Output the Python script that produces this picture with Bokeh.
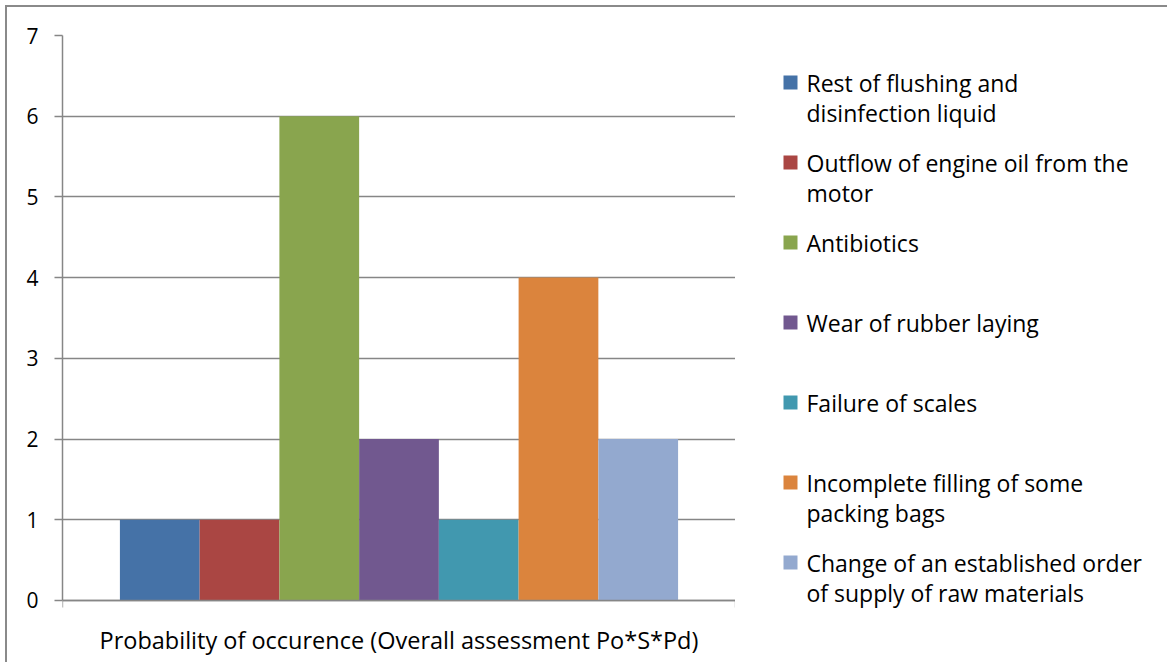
from bokeh.plotting import figure
from bokeh.layouts import row
from bokeh.models import ColumnDataSource, Range1d, FixedTicker, LinearAxis
from bokeh.core.properties import value
from bokeh.embed import file_html
from bokeh.resources import INLINE

categories = [
    "Rest of flushing and\ndisinfection liquid",
    "Outflow of engine oil from the\nmotor",
    "Antibiotics",
    "Wear of rubber laying",
    "Failure of scales",
    "Incomplete filling of some\npacking bags",
    "Change of an established order\nof supply of raw materials",
]
values = [1, 1, 6, 2, 1, 4, 2]
colors = ["#4572A7", "#AA4643", "#89A54E", "#71588F", "#4198AF", "#DB843D", "#93A9CF"]
x_label = "Probability of occurence (Overall assessment Po*S*Pd)"
y_ticks = [0, 1, 2, 3, 4, 5, 6, 7]

FONT = "Open Sans"
GRAY = "#868686"
FRAME_W = 673
FRAME_H = 573          # 565 px for 0..7 plus a small strip below zero for the tick marks
TOP, LEFT, BOTTOM = 28, 55, 54
TOTAL_H = TOP + FRAME_H + BOTTOM
LEG_W = 432

pos = [i + 0.5 for i in range(len(values))]
src = ColumnDataSource(dict(x=pos, top=values, color=colors))

p = figure(output_backend="svg", toolbar_location=None,
           frame_width=FRAME_W, frame_height=FRAME_H,
           min_border_left=LEFT, min_border_top=TOP, min_border_bottom=BOTTOM, min_border_right=0,
           x_range=Range1d(-0.72, 7.72), y_range=Range1d(-0.1, 7))

p.vbar(x="x", top="top", bottom=0, width=1.0, color="color", line_color=None, source=src)

p.outline_line_color = None
p.xgrid.grid_line_color = None
p.ygrid.grid_line_color = GRAY
p.ygrid.grid_line_width = 1.3
p.ygrid.ticker = FixedTicker(ticks=y_ticks)

p.yaxis.ticker = FixedTicker(ticks=y_ticks)
p.yaxis.bounds = (0, 7)
p.yaxis.axis_line_color = GRAY
p.yaxis.axis_line_width = 1.5
p.yaxis.major_tick_line_color = GRAY
p.yaxis.major_tick_line_width = 1.3
p.yaxis.major_tick_out = 8
p.yaxis.major_tick_in = 0
p.yaxis.minor_tick_line_color = None
p.yaxis.major_label_text_font = FONT
p.yaxis.major_label_text_font_size = "21px"
p.yaxis.major_label_text_color = "#000000"
p.yaxis.major_label_standoff = 16

# category axis line sits on y = 0
xa = p.xaxis[0]
xa.fixed_location = 0
xa.ticker = FixedTicker(ticks=[-0.72, 7.72])
xa.major_label_overrides = {-0.72: "", 7.72: ""}
xa.axis_line_color = GRAY
xa.axis_line_width = 1.5
xa.major_tick_line_color = GRAY
xa.major_tick_line_width = 1.3
xa.major_tick_out = 7
xa.major_tick_in = 0
xa.minor_tick_line_color = None
xa.major_label_standoff = 0
xa.major_label_text_font_size = "1px"

# the category name, shown as the label of a second (line-less) bottom axis
cat_axis = LinearAxis(ticker=FixedTicker(ticks=[]), axis_line_color=None,
                      major_tick_line_color=None, minor_tick_line_color=None,
                      axis_label=x_label, axis_label_text_font=FONT,
                      axis_label_text_font_style="normal", axis_label_text_font_size="23.5px",
                      axis_label_text_color="#000000", axis_label_standoff=15)
p.add_layout(cat_axis, "below")

# legend panel: one 80px slot per category, swatch beside the first text line
SLOT_H = 80
FIRST = 47
leg_src = ColumnDataSource(dict(
    label=categories,
    color=colors,
    y=[FIRST + i * SLOT_H for i in range(len(categories))],
    ty=[FIRST + i * SLOT_H - 16 for i in range(len(categories))],
))
lg = figure(output_backend="svg", toolbar_location=None,
            width=LEG_W, height=TOTAL_H,
            min_border_left=0, min_border_right=0, min_border_top=TOP, min_border_bottom=BOTTOM,
            x_axis_location=None, y_axis_location=None,
            x_range=Range1d(0, LEG_W), y_range=Range1d(FRAME_H, 0))
lg.outline_line_color = None
lg.grid.grid_line_color = None
lg.scatter(x=55, y="y", marker="square", size=14, color="color", line_color=None, source=leg_src)
lg.text(x=71, y="ty", text="label", source=leg_src,
        text_font=value(FONT), text_font_size="23px", text_color="#000000",
        text_baseline="top", text_align="left", text_line_height=0.95)

layout = row(p, lg, spacing=0)
layout.styles = {"border-left": "2px solid #8a8a8a", "border-top": "2px solid #8a8a8a",
                 "margin-left": "5px", "margin-top": "5px"}

open("out.html", "w").write(file_html(layout, INLINE))
